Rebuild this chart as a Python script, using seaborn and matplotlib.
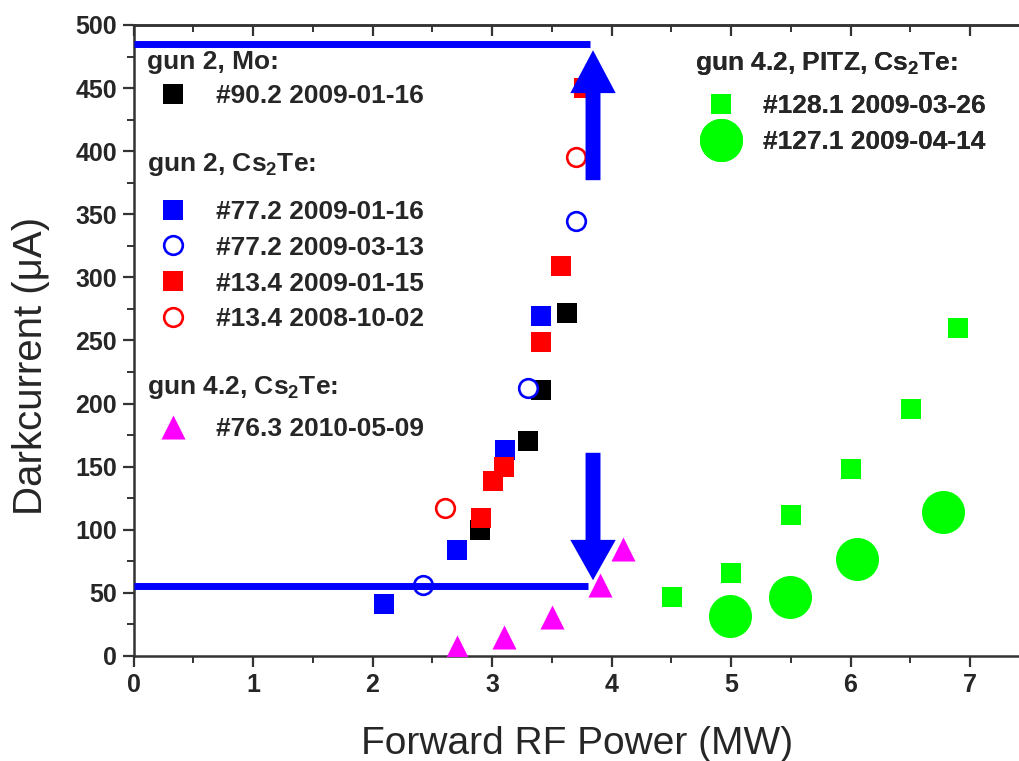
import matplotlib
matplotlib.use("Agg")
import matplotlib.pyplot as plt
from matplotlib.font_manager import FontProperties
from matplotlib.ticker import MultipleLocator
import pandas as pd
import seaborn as sns

# ---------------- data ----------------
mo_x = [2.90, 3.30, 3.41, 3.63]
mo_y = [100, 170, 211, 272]

cs77a_x = [2.10, 2.71, 3.11, 3.41]
cs77a_y = [41, 84, 163, 269]

cs77b_x = [2.42, 3.30, 3.70]
cs77b_y = [56, 212, 345]

cs13a_x = [2.91, 3.01, 3.10, 3.41, 3.58, 3.77]
cs13a_y = [109, 139, 150, 249, 309, 450]

cs13b_x = [2.61, 3.70]
cs13b_y = [117, 395]

g42_x = [2.71, 3.10, 3.50, 3.90, 4.10]
g42_y = [7, 15, 31, 56, 85]

pitz128_x = [4.51, 5.00, 5.50, 6.00, 6.51, 6.90]
pitz128_y = [47, 66, 112, 148, 196, 260]

pitz127_x = [4.99, 5.49, 6.05, 6.77]
pitz127_y = [32, 47, 77, 114]

labels = {
    "mo": "#90.2 2009-01-16",
    "cs77a": "#77.2 2009-01-16",
    "cs77b": "#77.2 2009-03-13",
    "cs13a": "#13.4 2009-01-15",
    "cs13b": "#13.4 2008-10-02",
    "g42": "#76.3 2010-05-09",
    "pitz128": "#128.1 2009-03-26",
    "pitz127": "#127.1 2009-04-14",
}
group_titles = ["gun 2, Mo:", "gun 2, Cs$_2$Te:", "gun 4.2, Cs$_2$Te:",
                "gun 4.2, PITZ, Cs$_2$Te:"]

# reference levels
upper_level = 485
lower_level = 55.5
xticks = list(range(0, 8))
yticks = list(range(0, 501, 50))

# ---------------- style ----------------
sns.set_style("ticks")
plt.rcParams["font.family"] = ["Liberation Sans", "DejaVu Sans"]
plt.rcParams["mathtext.default"] = "regular"

BLUE = "#0000FF"
RED = "#FF0000"
MAG = "#FF00FF"
GREEN = "#00FF00"
SPINE = "#333333"

fig = plt.figure(figsize=(10.2, 7.61), dpi=100)
ax = fig.add_axes([0.1309, 0.138, 0.8691, 0.8292])

def scatter(xs, ys, key, marker, s, color, edge=None, lw=0, z=2):
    df = pd.DataFrame({"x": xs, "y": ys})
    sns.scatterplot(data=df, x="x", y="y", ax=ax, marker=marker, s=s,
                    color=color, edgecolor=edge if edge else color,
                    linewidth=lw, zorder=z, label=labels[key], legend=False)
    return ax.collections[-1]

h_mo = scatter(mo_x, mo_y, "mo", "s", 228, "black")
h_77a = scatter(cs77a_x, cs77a_y, "cs77a", "s", 228, BLUE)
h_77b = scatter(cs77b_x, cs77b_y, "cs77b", "o", 180, "white", edge=BLUE, lw=1.9)
h_13a = scatter(cs13a_x, cs13a_y, "cs13a", "s", 228, RED)
h_13b = scatter(cs13b_x, cs13b_y, "cs13b", "o", 180, "white", edge=RED, lw=1.9)
h_42 = scatter(g42_x, g42_y, "g42", "^", 300, MAG, z=5)
h_128 = scatter(pitz128_x, pitz128_y, "pitz128", "s", 228, GREEN)
h_127 = scatter(pitz127_x, pitz127_y, "pitz127", "o", 961, GREEN)

# horizontal level lines and arrows
ax.plot([0, 3.82], [upper_level, upper_level], color=BLUE, lw=5,
        solid_capstyle="butt", zorder=4)
ax.plot([0, 3.80], [lower_level, lower_level], color=BLUE, lw=5,
        solid_capstyle="butt", zorder=4)
ax.arrow(3.845, 377, 0, 103, width=0.125, head_width=0.38, head_length=34,
         length_includes_head=True, color=BLUE, lw=0, zorder=4)
ax.arrow(3.845, 161, 0, -101, width=0.125, head_width=0.38, head_length=32,
         length_includes_head=True, color=BLUE, lw=0, zorder=4)

# axes
ax.set_xlim(0, 7.418)
ax.set_ylim(0, 500)
ax.set_xticks(xticks)
ax.set_yticks(yticks)
ax.xaxis.set_minor_locator(MultipleLocator(0.5))
ax.yaxis.set_minor_locator(MultipleLocator(25))
tick_font = FontProperties(family=["Liberation Sans", "DejaVu Sans"], weight="bold", size=18)
for lab in ax.get_xticklabels() + ax.get_yticklabels():
    lab.set_fontproperties(tick_font)
ax.tick_params(which="major", length=8, width=1.6, color=SPINE, pad=4)
ax.tick_params(which="minor", length=5, width=1.4, color=SPINE)
ax.spines["right"].set_visible(False)
for sp in ("left", "bottom", "top"):
    ax.spines[sp].set_color(SPINE)
    ax.spines[sp].set_linewidth(1.8)

top = ax.secondary_xaxis("top")
top.set_xticks(xticks)
top.xaxis.set_minor_locator(MultipleLocator(0.5))
top.tick_params(which="major", direction="in", length=8, width=1.6, color=SPINE,
                labeltop=False)
top.tick_params(which="minor", direction="in", length=5, width=1.4, color=SPINE)
top.spines["top"].set_color(SPINE)
top.spines["top"].set_linewidth(1.8)

ax.set_xlabel("Forward RF Power (MW)", fontsize=28, labelpad=21)
ax.set_ylabel("Darkcurrent (\u03bcA)", fontsize=29)
ax.yaxis.set_label_coords(-0.094, 0.46)

# legends
leg_font = FontProperties(family=["Liberation Sans", "DejaVu Sans"], weight="bold", size=19)
common = dict(frameon=False, prop=leg_font, title_fontproperties=leg_font,
              alignment="left", loc="upper left", borderpad=0, borderaxespad=0,
              handlelength=2.0, handletextpad=0.6, labelspacing=0.45,
              scatterpoints=1, scatteryoffsets=[0.5])

groups = [
    ([h_mo], group_titles[0], (0.0152, 0.960), -1.5),
    ([h_77a, h_77b, h_13a, h_13b], group_titles[1], (0.0152, 0.800), 7.0),
    ([h_42], group_titles[2], (0.0152, 0.447), 3.0),
    ([h_128, h_127], group_titles[3], (0.633, 0.960), 3.5),
]
for hs, title, anchor, extra in groups:
    lg = ax.legend(handles=hs, labels=[h.get_label() for h in hs], title=title,
                   bbox_to_anchor=anchor, **common)
    lg._legend_box.sep = lg._legend_box.sep + extra
    ax.add_artist(lg)

fig.savefig("out.png", dpi=100)
